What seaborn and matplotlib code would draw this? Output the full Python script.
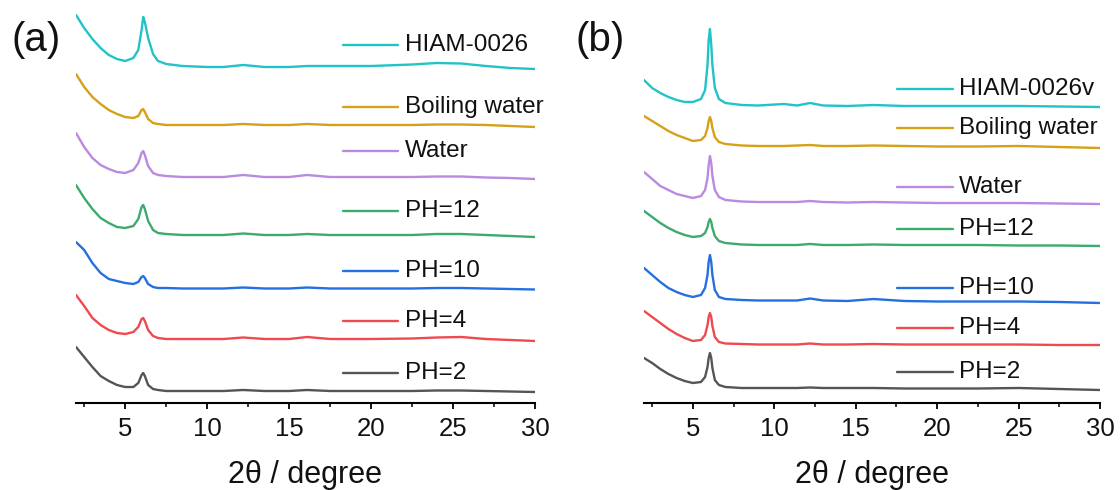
import matplotlib
matplotlib.use("Agg")
import matplotlib.pyplot as plt
from matplotlib.ticker import MultipleLocator
import numpy as np
import pandas as pd
import seaborn as sns

# ---------------- data ----------------
two_theta_a = [2.0, 2.5, 3.0, 3.5, 4.0, 4.5, 5.0, 5.5, 5.8, 6.0, 6.1, 6.2, 6.4, 6.7, 7.0, 7.5,
               8.5, 10, 11, 12.2, 13.5, 15, 16.1, 17.5, 20, 22.5, 24, 25.5, 27, 28.5, 30]
two_theta_b = [2.0, 2.5, 3.0, 3.5, 4.0, 4.5, 5.0, 5.5, 5.75, 5.9, 5.97, 6.05, 6.13, 6.2, 6.35, 6.6,
               7.0, 8, 9, 10.6, 11.4, 12.2, 13, 14.5, 16.1, 18, 20, 22.5, 25, 27.5, 30]

labels_a = ["HIAM-0026", "Boiling water", "Water", "PH=12", "PH=10", "PH=4", "PH=2"]
labels_b = ["HIAM-0026v", "Boiling water", "Water", "PH=12", "PH=10", "PH=4", "PH=2"]

# vertical stacking offsets (a.u.)
offsets_a = [336, 278, 226, 168, 114.5, 64, 12]
offsets_b = [297, 257, 201, 158, 102.5, 58.5, 15]

# panel (a) intensities (a.u., relative to each pattern's baseline)
hiam_a = [52, 39, 28, 19, 12, 8, 6, 9, 17, 37, 50, 45, 29, 13, 6, 3, 1, 0, 0, 2, 0, 0, 1, 1, 1, 2.5, 4, 3.5, 1, -1, -2]
boil_a = [51, 38, 28, 21, 15, 11, 8, 7, 9, 15, 16, 13, 6, 2, 1, 0, 0, 0, 0, 1, 0, 0, 1, 0, 0, 0, 0.5, 0.5, 0, -1, -2]
water_a = [44, 30, 19, 12, 8, 5, 4, 7, 14, 24, 26, 22, 11, 4, 2, 1, 0, 0, 0, 2, 0, 0, 2, 0, 0, 0, 0.5, 0.5, -0.5, -1, -2]
ph12_a = [50, 37, 26, 17, 12, 8, 7, 9, 16, 28, 30, 26, 14, 5, 2, 1, 0, 0, 0, 1.5, 0, 0, 1, 0, 0, 0, 1, 1, 0, -1, -2]
ph10_a = [46.5, 38.5, 25.5, 15.5, 9.5, 7.5, 5.5, 4.5, 6.5, 11.5, 12.5, 10.5, 4.5, 1.5, 0.5, 0.5, 0, 0, 0, 1, 0, 0, 1, 0, 0, 0, 0.5, 0.5, 0, -0.5, -1]
ph4_a = [44, 33, 21, 14, 9, 6, 5, 7, 12, 20, 21, 18, 9, 3, 1, 0, 0, 0, 0, 1.5, 0, 0, 2, 0, 0, 0.5, 1.5, 2, 0, -1, -2]
ph2_a = [44, 34, 24, 15, 10, 6, 4, 4, 8, 16, 18, 15, 6, 2, 1, 0, 0, 0, 0, 1, 0, 0, 1, 0, 0, 0, 0.5, 0.5, 0, -0.5, -1]

# panel (b) intensities
hiam_b = [26, 18, 13, 9, 6, 4, 4, 7, 16, 41, 66, 77, 61, 41, 18, 7, 3, 1, 0.5, 2, 0.5, 3, 0.5, 0, 1, 0, 0, 0, 0, -0.5, -1]
boil_b = [30, 25, 20, 15, 11, 8, 5, 6, 10, 18, 25, 29, 25, 18, 9, 4, 2, 0.5, 0, 0, 0.5, 1, 0, 0, 0.5, 0, -0.5, -0.5, 0, -1, -2]
water_b = [30, 23, 16, 12, 8, 6, 4, 6, 12, 24, 37, 46, 39, 26, 12, 5, 2, 0.5, 0, 0, 0, 1, 0, -0.5, 0, -0.5, -1, -1, -1, -1.5, -2]
ph12_b = [34, 28, 22, 17, 13, 10, 8, 9, 12, 18, 23, 26, 23, 17, 9, 4, 2, 0.5, 0, 0, 0, 1, 0, 0, 0.5, 0, 0, 0, -0.5, -0.5, -1]
ph10_b = [32.5, 25.5, 18.5, 12.5, 8.5, 5.5, 3.5, 5.5, 12.5, 25.5, 38.5, 45.5, 38.5, 25.5, 10.5, 3.5, 1.5, 0.5, 0, 0, 0, 2, 0, -0.5, 1.5, -0.5, -1, -1, -1, -1.5, -2.5]
ph4_b = [33.5, 27.5, 21.5, 15.5, 10.5, 6.5, 3.5, 4.5, 9.5, 19.5, 27.5, 31.5, 27.5, 18.5, 7.5, 2.5, 1, 0.5, 0, 0, 0, 1, 0, 0, 0.5, 0, 0, 0, 0, -0.5, -0.5]
ph2_b = [30, 25, 19, 14, 10, 7, 5, 6, 11, 21, 30, 35, 30, 20, 8, 3, 1, 0, 0, 0, 0, 0.5, 0, 0, 0, -0.5, -0.5, -0.5, 0, -1, -2]

series_a = [hiam_a, boil_a, water_a, ph12_a, ph10_a, ph4_a, ph2_a]
series_b = [hiam_b, boil_b, water_b, ph12_b, ph10_b, ph4_b, ph2_b]

colors = ["#22C3C8", "#D4A118", "#B98AE0", "#3DAA6E", "#2470E0", "#EE4A4F", "#555555"]

# legend key vertical positions (axes fraction)
key_y_a = [0.911, 0.753, 0.641, 0.4885, 0.336, 0.2087, 0.0763]
key_y_b = [0.799, 0.699, 0.5496, 0.4427, 0.2926, 0.1908, 0.0789]

# ---------------- plotting ----------------
sns.set_theme(style="white")
plt.rcParams["font.family"] = ["Liberation Sans", "DejaVu Sans"]

fig = plt.figure(figsize=(11.2, 4.9), dpi=100)
ax_a = fig.add_axes([76 / 1120, 1 - 403 / 490, 459 / 1120, 393 / 490])
ax_b = fig.add_axes([644 / 1120, 1 - 403 / 490, 456 / 1120, 393 / 490])


def build_df(x, series, offsets, labels):
    rows = []
    for vals, off, lab in zip(series, offsets, labels):
        for xi, vi in zip(x, vals):
            rows.append({"two_theta": xi, "intensity": vi + off, "sample": lab})
    return pd.DataFrame(rows)


def draw(ax, x, series, offsets, labels, key_y, key_x0, key_x1, text_x):
    df = build_df(x, series, offsets, labels)
    for lab, col in zip(labels, colors):
        sub = df[df["sample"] == lab]
        sns.lineplot(data=sub, x="two_theta", y="intensity", ax=ax, color=col,
                     linewidth=1.7, estimator=None, sort=False, legend=False)
    for lab, col, ky in zip(labels, colors, key_y):
        ax.plot([key_x0, key_x1], [ky, ky], transform=ax.transAxes, color=col,
                linewidth=1.7, clip_on=False)
        ax.text(text_x, ky, lab, transform=ax.transAxes, fontsize=17.5,
                va="center", ha="left", color="#111111")
    ax.set_xlim(2, 30)
    ax.set_ylim(0, 393)
    ax.set_ylabel("")
    ax.set_yticks([])
    ax.xaxis.set_major_locator(MultipleLocator(5))
    ax.xaxis.set_minor_locator(MultipleLocator(2.5))
    ax.tick_params(axis="x", which="major", direction="out", length=4, width=1.3,
                   labelsize=18.5, pad=6, color="black", labelcolor="#111111", bottom=True)
    ax.tick_params(axis="x", which="minor", direction="out", length=3, width=1.1,
                   color="black", bottom=True)
    for s in ["top", "right", "left"]:
        ax.spines[s].set_visible(False)
    ax.spines["bottom"].set_color("black")
    ax.spines["bottom"].set_linewidth(1.5)
    ax.set_xlabel("2θ / degree", fontsize=22, labelpad=14, color="#111111")
    ax.patch.set_alpha(0)


draw(ax_a, two_theta_a, series_a, offsets_a, labels_a, key_y_a, 0.582, 0.7015, 0.7168)
draw(ax_b, two_theta_b, series_b, offsets_b, labels_b, key_y_b, 0.554, 0.677, 0.691)

fig.text(11 / 1120, 1 - 40 / 490, "(a)", fontsize=29, va="center", ha="left", color="#111111")
fig.text(575 / 1120, 1 - 40 / 490, "(b)", fontsize=29, va="center", ha="left", color="#111111")

fig.savefig("out.png", dpi=100)
